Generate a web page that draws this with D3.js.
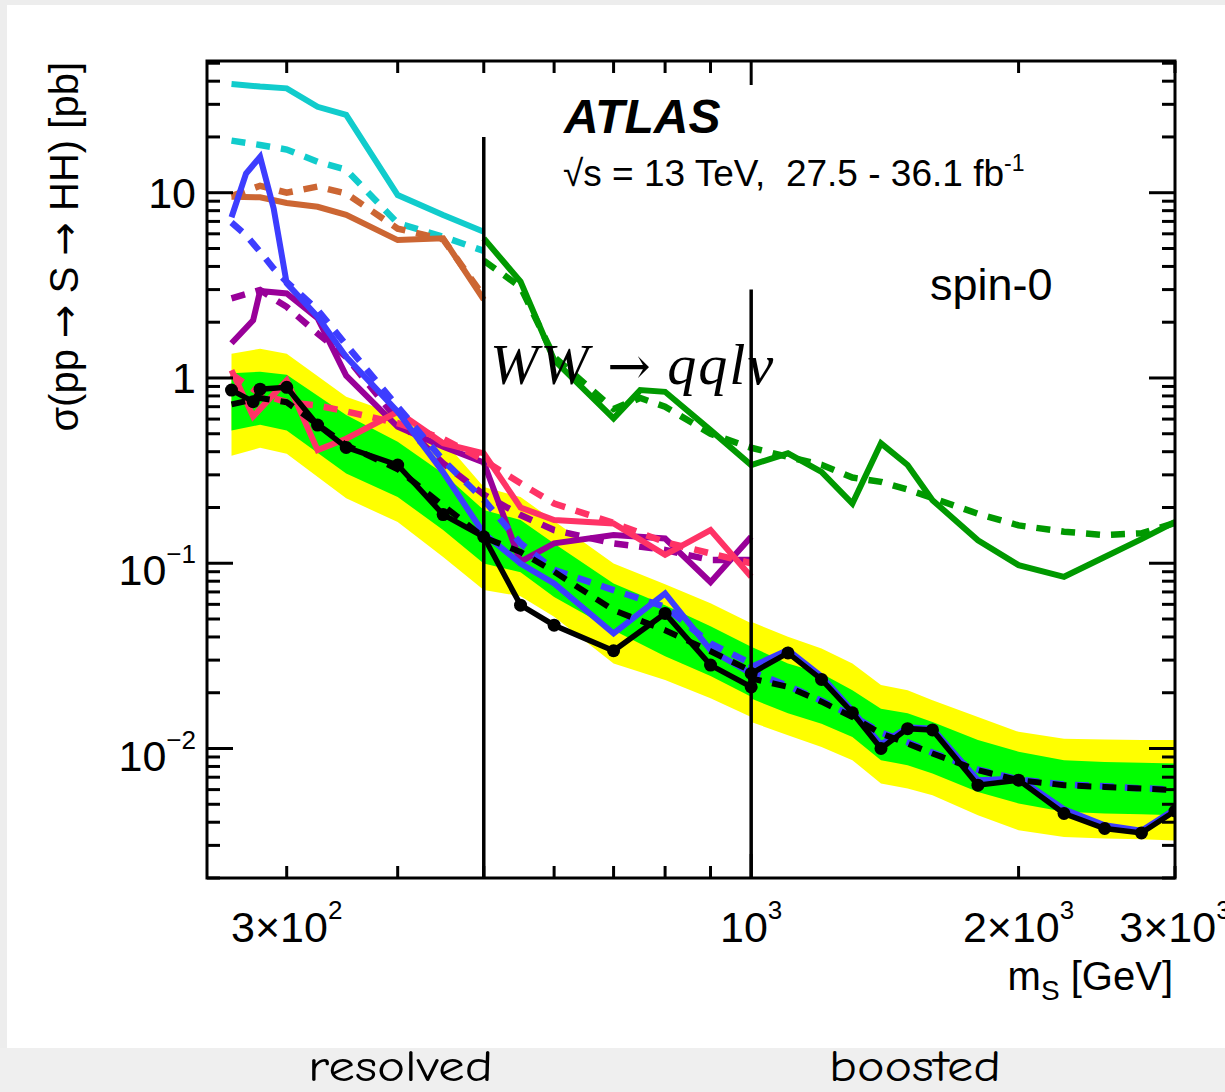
<!DOCTYPE html>
<html><head><meta charset="utf-8">
<script src="https://cdn.jsdelivr.net/npm/d3@7"></script>
<style>body{margin:0;background:#fff;} svg{display:block;} text{font-family:"Liberation Sans",Arial,Helvetica,sans-serif;}</style>
</head><body><svg id="c" width="1225" height="1092"></svg>
<script>
// ---------------- data ----------------
const bandMass = [260,280,300,350,400,450,500,550,600,700,800,900,1000,1000,1100,1200,1300,1400,1500,1600,1800,2000,2250,2500,2750,3000];
const exp2Hi = [1.35,1.44,1.35,0.792,0.631,0.462,0.258,0.2275,0.169,0.0997,0.0771,0.0609,0.0475,0.0483,0.0401,0.0347,0.0288,0.022,0.0206,0.0182,0.0148,0.0123,0.0113,0.0112,0.0111,0.0111];
const exp1Hi = [1.06,1.08,1.04,0.631,0.452,0.305,0.194,0.171,0.128,0.0778,0.0594,0.0457,0.0354,0.0354,0.0288,0.0254,0.0206,0.0164,0.0155,0.0139,0.0111,0.0096,0.00865,0.00846,0.00838,0.0083];
const exp1Lo = [0.52,0.56,0.52,0.305,0.228,0.151,0.0997,0.0895,0.0658,0.0435,0.0315,0.0246,0.019,0.0186,0.0155,0.0136,0.01155,0.00865,0.00813,0.00733,0.00583,0.00505,0.00455,0.00446,0.00442,0.00436];
const exp2Lo = [0.38,0.42,0.39,0.224,0.167,0.108,0.0716,0.0664,0.0514,0.0288,0.0234,0.0187,0.0148,0.0139,0.0118,0.0102,0.00865,0.00647,0.00608,0.0056,0.00436,0.00362,0.00333,0.00327,0.00324,0.00319];
const expMed = [0.72,0.78,0.74,0.434,0.322,0.205,0.138,0.115,0.09,0.0558,0.0435,0.0335,0.0262,0.0239,0.0215,0.0179,0.0148,0.01205,0.01064,0.0094,0.00764,0.00675,0.00634,0.0062,0.00608,0.00596];

const obsMass = [260,275,280,300,325,350,400,450,500,550,600,700,800,900,1000,1000,1100,1200,1300,1400,1500,1600,1800,2000,2250,2500,2750,3000];
const obsVal  = [0.86,0.745,0.87,0.89,0.557,0.422,0.339,0.183,0.139,0.0594,0.0463,0.0337,0.0536,0.0282,0.0215,0.0254,0.0328,0.0236,0.0156,0.0100,0.0128,0.0126,0.00634,0.00675,0.00446,0.0037,0.0035,0.0046];

const cyanMass = [260,280,300,325,350,400,450,500];
const cyanObs  = [38.6,37.4,36.6,29.1,26.3,9.72,7.58,6.16];
const cyanExp  = [19.1,18.1,17.1,14.7,13.3,6.84,5.79,4.85];

const orangeMass = [260,280,300,325,350,400,450,500];
const orangeObs  = [9.5,9.45,8.8,8.4,7.6,5.55,5.67,2.65];
const orangeExp  = [9.6,10.9,10.0,10.8,9.9,6.4,5.6,2.75];

const blueMass = [260,270,280,290,300,325,350,400,450,500,550,600,700,800,900,1000,1000,1100,1200,1300,1400,1500,1600,1800,2000,2250,2500,2750,3000];
const blueObs  = [7.37,12.7,15.6,8.24,3.24,2.14,1.30,0.657,0.31,0.145,0.0997,0.0778,0.0418,0.0687,0.034,0.0254,0.0276,0.034,0.0245,0.016,0.0105,0.013,0.0128,0.00675,0.0069,0.0047,0.00385,0.0036,0.0047];
const blueExp  = [6.9,5.9,4.8,3.9,3.3,2.33,1.51,0.70,0.36,0.22,0.128,0.092,0.0716,0.0582,0.0369,0.0288,0.026,0.0218,0.0181,0.015,0.0122,0.0108,0.0095,0.0077,0.0068,0.0064,0.00625,0.0061,0.006];

const purpleObsMass = [260,275,280,300,325,350,400,450,500,550,600,700,800,900,1000];
const purpleObs     = [1.54,2.05,2.95,2.86,2.1,1.03,0.545,0.425,0.35,0.102,0.128,0.142,0.136,0.079,0.139];
const purpleExpMass = [260,280,300,325,350,400,450,500,550,600,700,800,900,1000];
const purpleExp     = [2.69,2.98,2.42,1.74,1.3,0.593,0.346,0.235,0.182,0.151,0.128,0.118,0.104,0.104];

const pinkObsMass = [260,275,300,325,350,400,450,500,550,600,700,800,900,1000];
const pinkObs     = [1.10,0.62,0.97,0.408,0.47,0.657,0.444,0.392,0.20,0.171,0.164,0.111,0.151,0.0845];
const pinkExpMass = [260,280,300,325,350,400,450,500,550,600,700,800,900,1000];
const pinkExp     = [1.05,0.82,0.74,0.71,0.66,0.57,0.47,0.36,0.27,0.21,0.165,0.13,0.113,0.10];

const greenMass = [500,550,600,700,750,800,900,1000,1100,1200,1300,1400,1500,1600,1800,2000,2250,2500,2750,3000];
const greenObs  = [5.67,3.31,1.25,0.605,0.86,0.842,0.523,0.339,0.392,0.311,0.21,0.444,0.339,0.219,0.133,0.0977,0.0845,0.108,0.135,0.167];
const greenExp  = [4.3,3.1,1.3,0.68,0.78,0.70,0.50,0.42,0.375,0.34,0.29,0.275,0.25,0.225,0.185,0.16,0.148,0.142,0.145,0.165];

const dividerMass = [500, 1000];
const dividerTop  = [20, 3];

const xTickVals   = [300,400,500,600,700,800,900,1000,2000,3000];
const xTickLabels = [{v:300,b:"3×10",e:"2"},{v:1000,b:"10",e:"3"},{v:2000,b:"2×10",e:"3"},{v:3000,b:"3×10",e:"3"}];
const yTickLabels = [{v:10,b:"10",e:""},{v:1,b:"1",e:""},{v:0.1,b:"10",e:"−1"},{v:0.01,b:"10",e:"−2"}];

// ---------------- drawing ----------------
const svg = d3.select("#c");
svg.append("rect").attr("width",1225).attr("height",1092).attr("fill","#ededed");
svg.append("rect").attr("x",7).attr("y",5).attr("width",1218).attr("height",1043).attr("fill","#ffffff");

const X0=207, X1=1175, Y0=61, Y1=878;
const x = d3.scaleLog().domain([244,3000]).range([X0,X1]);
const y = d3.scaleLog().domain([0.002,51.4]).range([Y1,Y0]);

svg.append("defs").append("clipPath").attr("id","pc").append("rect")
  .attr("x",X0).attr("y",Y0).attr("width",X1-X0).attr("height",Y1-Y0);
const g = svg.append("g").attr("clip-path","url(#pc)");

const zip = (ms,vs)=>ms.map((m,i)=>({m:m,v:vs[i]}));
const band = (lo,hi)=>bandMass.map((m,i)=>({m:m,lo:lo[i],hi:hi[i]}));
const area = d3.area().x(d=>x(d.m)).y0(d=>y(d.lo)).y1(d=>y(d.hi));
const line = d3.line().x(d=>x(d.m)).y(d=>y(d.v));

g.append("path").datum(band(exp2Lo,exp2Hi)).attr("d",area).attr("fill","#ffff00");
g.append("path").datum(band(exp1Lo,exp1Hi)).attr("fill","#00ff00").attr("d",area);

function drawLine(data,color,dashed,w){
  g.append("path").datum(data).attr("d",line).attr("fill","none")
   .attr("stroke",color).attr("stroke-width",w)
   .attr("stroke-linejoin","miter").attr("stroke-linecap","butt")
   .attr("stroke-dasharray",dashed?"14,11":null);
}
const series = [
  [cyanMass,cyanExp,cyanMass,cyanObs,"#11cccc"],
  [orangeMass,orangeExp,orangeMass,orangeObs,"#cc6633"],
  [purpleExpMass,purpleExp,purpleObsMass,purpleObs,"#990099"],
  [pinkExpMass,pinkExp,pinkObsMass,pinkObs,"#ff3366"],
  [greenMass,greenExp,greenMass,greenObs,"#009900"],
  [blueMass,blueExp,blueMass,blueObs,"#3d3dff"]
];
series.forEach(s=>{
  drawLine(zip(s[0],s[1]),s[4],true,6.5);
  drawLine(zip(s[2],s[3]),s[4],false,6);
});
drawLine(zip(bandMass,expMed),"#000",true,6);
drawLine(zip(obsMass,obsVal),"#000",false,5.5);
g.selectAll("circle.obs").data(zip(obsMass,obsVal)).enter().append("circle")
  .attr("cx",d=>x(d.m)).attr("cy",d=>y(d.v)).attr("r",6.5).attr("fill","#000");

// divider lines
dividerMass.forEach((m,i)=>{
  svg.append("line").attr("x1",x(m)).attr("x2",x(m)).attr("y1",y(dividerTop[i])).attr("y2",Y1)
    .attr("stroke","#000").attr("stroke-width",3.5);
});

// axis frame and ticks
const ax = svg.append("g").attr("stroke","#000").attr("stroke-width",3);
ax.append("rect").attr("x",X0).attr("y",Y0).attr("width",X1-X0).attr("height",Y1-Y0).attr("fill","none");
xTickVals.forEach(v=>{
  const L = v===1000?24:12;
  ax.append("line").attr("x1",x(v)).attr("x2",x(v)).attr("y1",Y1).attr("y2",Y1-L);
  ax.append("line").attr("x1",x(v)).attr("x2",x(v)).attr("y1",Y0).attr("y2",Y0+L);
});
for(let dec=-3; dec<=1; dec++){
  for(let k=1;k<=9;k++){
    const v = k*Math.pow(10,dec);
    if(v<0.002||v>51.4) continue;
    const L = k===1?26:13;
    ax.append("line").attr("x1",X0).attr("x2",X0+L).attr("y1",y(v)).attr("y2",y(v));
    ax.append("line").attr("x1",X1).attr("x2",X1-L).attr("y1",y(v)).attr("y2",y(v));
  }
}

// tick labels
xTickLabels.forEach(t=>{
  const tx = svg.append("text").attr("x",x(t.v)).attr("y",942).attr("text-anchor","middle")
    .attr("font-size",43).attr("fill","#000");
  tx.append("tspan").text(t.b);
  tx.append("tspan").attr("dy",-23).attr("font-size",26).text(t.e);
});
yTickLabels.forEach(t=>{
  const ty = svg.append("text").attr("x",196).attr("y",y(t.v)+(t.e?22:15)).attr("text-anchor","end")
    .attr("font-size",43).attr("fill","#000");
  ty.append("tspan").text(t.b);
  if(t.e) ty.append("tspan").attr("dy",-22).attr("font-size",26).text(t.e);
});

// axis titles
const xt = svg.append("text").attr("x",1173).attr("y",990).attr("text-anchor","end").attr("font-size",40);
xt.append("tspan").text("m");
xt.append("tspan").attr("dy",10).attr("font-size",28).text("S");
xt.append("tspan").attr("dy",-10).text(" [GeV]");

const yt = svg.append("text").attr("transform","translate(78,62) rotate(-90)").attr("text-anchor","end")
  .attr("font-size",40).style("white-space","pre");
yt.append("tspan").text("σ(pp ");
yt.append("tspan").style("font-family","'DejaVu Sans',sans-serif").text("→");
yt.append("tspan").text(" S ");
yt.append("tspan").style("font-family","'DejaVu Sans',sans-serif").text("→");
yt.append("tspan").text(" HH) [pb]");

// labels
svg.append("text").attr("x",564).attr("y",133).attr("font-size",48).attr("font-weight","bold")
  .attr("font-style","italic").text("ATLAS");
const en = svg.append("text").attr("x",563).attr("y",186).attr("font-size",37).style("white-space","pre");
en.append("tspan").text("√s = 13 TeV,  27.5 - 36.1 fb");
en.append("tspan").attr("dy",-15).attr("font-size",23).text("-1");

svg.append("text").attr("x",930).attr("y",300).attr("font-size",45).text("spin-0");

const ww = svg.append("text").attr("x",490).attr("y",384).attr("font-size",58)
  .style("font-family","'Liberation Serif','DejaVu Serif',serif").style("white-space","pre");
ww.append("tspan").attr("font-style","italic").attr("letter-spacing",2).text("WW");
ww.append("tspan").style("font-family","'DejaVu Serif',serif").attr("font-size",52).text(" → ");
ww.append("tspan").attr("font-style","italic").attr("letter-spacing",2).text("qqlν");

// bottom band
svg.append("rect").attr("x",0).attr("y",1048).attr("width",1225).attr("height",44).attr("fill","#efefef");
const bf = "'Comic Sans MS','Comic Neue','DejaVu Sans',sans-serif";
svg.append("text").attr("x",308).attr("y",1081).attr("font-size",44).style("font-family",bf)
  .attr("textLength",185).attr("lengthAdjust","spacingAndGlyphs").text("resolved");
svg.append("text").attr("x",829).attr("y",1081).attr("font-size",44).style("font-family",bf)
  .attr("textLength",172).attr("lengthAdjust","spacingAndGlyphs").text("boosted");
</script></body></html>
